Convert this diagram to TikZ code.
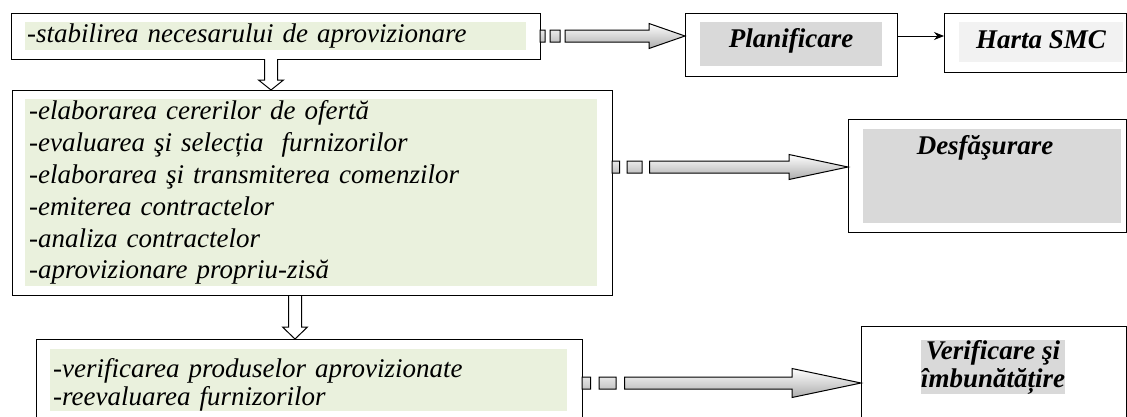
\documentclass[tikz,border=0pt]{standalone}
\usepackage{fontspec}
\setmainfont{Liberation Serif}
\usepackage{xcolor}
\usepackage{tikz}
\usetikzlibrary{calc, arrows.meta, positioning}

\definecolor{olivelight}{RGB}{234,241,221}
\definecolor{boxgray}{RGB}{217,217,217}
\definecolor{palegray}{RGB}{242,242,242}

\tikzset{
	outerbox/.style = {draw, line width = 1.4pt, fill = white, inner sep = 0pt, anchor = north west},
	greenfill/.style = {fill = olivelight, inner ysep = 0pt, align = left, anchor = north west,
		font = \itshape\fontsize{27}{31.8}\selectfont},
	grayfill/.style = {fill = boxgray, inner sep = 0pt, anchor = north west},
	titletext/.style = {font = \bfseries\itshape\fontsize{27}{28}\selectfont, inner sep = 0pt, align = center},
	blockarrow/.style = {draw, line width = 1pt, top color = white, bottom color = gray!65}
}

\newcommand{\stripedarrow}[5]{%
	\path[blockarrow] let \p1 = (#1), \p2 = (#2.west) in
		(\x1,\y1-6pt) rectangle (\x1+#3,\y1+6pt)
		(\x1+2*#3,\y1-6pt) rectangle (\x1+4*#3,\y1+6pt)
		(\x1+5*#3,\y1-6pt) -- (\x2-#4,\y1-6pt) -- (\x2-#4,\y1-#5) -- (\x2,\y1)
		-- (\x2-#4,\y1+#5) -- (\x2-#4,\y1+6pt) -- (\x1+5*#3,\y1+6pt) -- cycle;
}
\newcommand{\hollowdown}[3]{%
	\draw[line width = 1pt, fill = white] let \p1 = (#1), \p2 = (#2.north) in
		(\x1-6.5pt,\y1) -- (\x1-6.5pt,\y2+#3) -- (\x1-12.5pt,\y2+#3) -- (\x1,\y2)
		-- (\x1+12.5pt,\y2+#3) -- (\x1+6.5pt,\y2+#3) -- (\x1+6.5pt,\y1);
}

\begin{document}
\begin{tikzpicture}[x = 1pt, y = -1pt]
	\useasboundingbox (0,0) rectangle (1127,416);

	\node[outerbox, minimum width = 529pt, minimum height = 46pt] (need) at (11,13) {};
	\node[greenfill, inner xsep = 2pt, text width = 497pt, minimum height = 28pt] (needtext) at (25,22)
		{-stabilirea necesarului de aprovizionare};

	\node[outerbox, minimum width = 600pt, minimum height = 205pt] (run) at (12,90) {};
	\node[greenfill, inner xsep = 4pt, text width = 564pt, minimum height = 187pt] (runtext) at (25,99)
		{-elaborarea cererilor de ofertă\\
		-evaluarea şi selecția~ furnizorilor\\
		-elaborarea şi transmiterea comenzilor\\
		-emiterea contractelor\\
		-analiza contractelor\\
		-aprovizionare propriu-zisă};

	\node[outerbox, minimum width = 546pt, minimum height = 100pt] (check) at (36,339) {};
	\node[greenfill, font = \itshape\fontsize{27}{28}\selectfont, inner xsep = 3pt, text width = 511pt,
		minimum height = 61pt] (checktext) at (50,349)
		{\rule{0pt}{28pt}-verificarea produselor aprovizionate\\
		-reevaluarea furnizorilor};

	\node[outerbox, minimum width = 212pt, minimum height = 63pt] (plan) at (685,13) {};
	\node[grayfill, minimum width = 182pt, minimum height = 44pt] (planfill) at (700,22) {};
	\node[titletext] (plantext) at (791,41) {Planificare};

	\node[outerbox, minimum width = 182pt, minimum height = 59pt] (map) at (944,13) {};
	\node[grayfill, fill = palegray, minimum width = 164pt, minimum height = 40pt] (mapfill) at (959,22) {};
	\node[titletext] (maptext) at (1041,40) {Harta SMC};

	\node[outerbox, minimum width = 278pt, minimum height = 113pt] (deploy) at (848,119) {};
	\node[grayfill, minimum width = 258pt, minimum height = 94pt] (deployfill) at (863,129) {};
	\node[titletext] (deploytext) at (985,148) {Desfăşurare};

	\node[outerbox, minimum width = 265pt, minimum height = 110pt] (verify) at (861,326) {};
	\node[titletext, fill = boxgray] (verifytext) at (993,367) {Verificare şi\\ îmbunătățire};

	\coordinate (down1) at (271,59);
	\coordinate (down2) at (295,296);
	\coordinate (out1) at (540,36);
	\coordinate (out2) at (612,167);
	\coordinate (out3) at (582,383);

	\hollowdown{down1}{run}{10pt}
	\hollowdown{down2}{check}{12pt}

	\stripedarrow{out1}{plan}{5pt}{36pt}{12.5pt}
	\stripedarrow{out2}{deploy}{7.5pt}{59pt}{12.5pt}
	\stripedarrow{out3}{verify}{8.5pt}{69pt}{14.5pt}

	\draw[line width = 1pt, -{Stealth[length = 10pt, width = 8pt]}] (plan.east |- out1) -- (map.west |- out1);
\end{tikzpicture}
\end{document}
